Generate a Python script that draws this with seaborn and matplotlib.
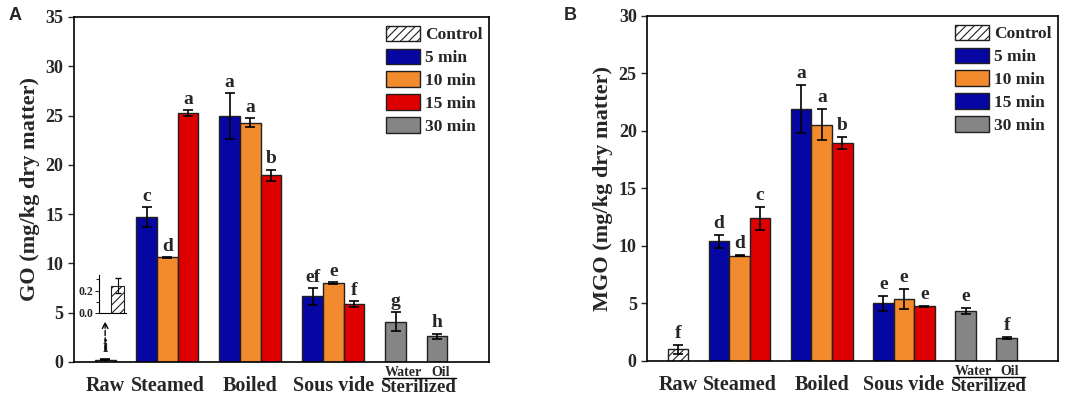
import numpy as np
import pandas as pd
import matplotlib
matplotlib.use("Agg")
import matplotlib.pyplot as plt
import matplotlib.transforms as mtransforms
from matplotlib.patches import Patch
import seaborn as sns

# ---- data ----
groups = ["Raw", "Steamed", "Boiled", "Sous vide", "Water", "Oil"]
group_keys = [["Control"], ["5 min", "10 min", "15 min"], ["5 min", "10 min", "15 min"],
              ["5 min", "10 min", "15 min"], ["30 min"], ["30 min"]]

go_vals = [0.245, 14.7, 10.6, 25.25, 24.95, 24.25, 18.95, 6.65, 8.0, 5.9, 4.1, 2.6]
go_err = [0.07, 1.0, 0.05, 0.3, 2.3, 0.45, 0.55, 0.85, 0.08, 0.28, 0.92, 0.28]
go_letters = ["i", "c", "d", "a", "a", "a", "b", "ef", "e", "f", "g", "h"]

mgo_vals = [1.0, 10.4, 9.17, 12.4, 21.93, 20.55, 18.95, 5.02, 5.4, 4.75, 4.35, 2.0]
mgo_err = [0.4, 0.58, 0.05, 1.03, 2.07, 1.33, 0.52, 0.64, 0.87, 0.03, 0.26, 0.1]
mgo_letters = ["f", "d", "d", "c", "a", "a", "b", "e", "e", "e", "e", "f"]

legend_labels = ["Control", "5 min", "10 min", "15 min", "30 min"]

BLUE = "#0606A2"
ORANGE = "#F28A2E"
RED = "#DE0000"
GRAY = "#858585"
palette = {"Control": "white", "5 min": BLUE, "10 min": ORANGE, "15 min": RED, "30 min": GRAY}
HATCH = "////"

sns.set_style("ticks")
plt.rcParams["font.family"] = ["Liberation Serif", "DejaVu Serif"]
plt.rcParams["font.weight"] = "bold"
plt.rcParams["hatch.linewidth"] = 0.8

# bar positions: one gap between groups
pos, keys, centers = [], [], []
x = 1.0
for g, ks in zip(groups, group_keys):
    start = x
    for k in ks:
        pos.append(x + 0.5)
        keys.append(k)
        x += 1
    centers.append((start + x) / 2)
    x += 1


def draw_panel(ax, vals, errs, letters, ymax, ylabel, leg_colors):
    df = pd.DataFrame({"pos": pos, "val": vals, "key": keys})
    sns.barplot(data=df, x="pos", y="val", hue="key", palette=palette, dodge=False,
                native_scale=True, width=1.0, saturation=1, edgecolor="#202020",
                linewidth=1.0, legend=False, ax=ax)
    for p in ax.patches:
        if p.get_facecolor()[:3] == (1.0, 1.0, 1.0):
            p.set_hatch(HATCH)
    ax.errorbar(pos, vals, yerr=errs, fmt="none", ecolor="black", elinewidth=1.2,
                capsize=3.5, capthick=1.2)
    for xp, v, e, t in zip(pos, vals, errs, letters):
        ax.text(xp, v + e + 0.25, t, ha="center", va="bottom", fontsize=14, fontweight="bold")

    ax.set_xlim(0, 20)
    ax.set_ylim(0, ymax)
    ax.set_yticks(np.arange(0, ymax + 1, 5))
    ax.tick_params(axis="y", labelsize=13, direction="out", length=4, width=1)
    ax.set_xticks(centers[:4])
    ax.set_xticklabels(groups[:4], fontsize=14.5, fontweight="bold")
    ax.tick_params(axis="x", length=0, pad=10)
    ax.set_xlabel("")
    ax.set_ylabel(ylabel, fontsize=16, fontweight="bold", labelpad=4)
    for s in ax.spines.values():
        s.set_visible(True)
        s.set_linewidth(1.2)
        s.set_color("black")

    # sterilized sub-labels
    trans = mtransforms.blended_transform_factory(ax.transData, ax.transAxes)
    ax.text(pos[10] + 0.4, -0.03, "Water", transform=trans, ha="center", va="center",
            fontsize=10, fontweight="bold")
    ax.text(pos[11] + 0.15, -0.03, "Oil", transform=trans, ha="center", va="center",
            fontsize=10, fontweight="bold")
    ax.plot([pos[10] - 0.6, pos[11] + 0.9], [-0.045, -0.045], transform=trans,
            color="black", lw=1.0, clip_on=False)
    ax.text((pos[10] + pos[11]) / 2 + 0.1, -0.075, "Sterilized", transform=trans,
            ha="center", va="center", fontsize=13.5, fontweight="bold")

    handles = [Patch(facecolor=c, edgecolor="#202020", linewidth=1.0,
                     hatch=HATCH if lab == "Control" else None)
               for lab, c in zip(legend_labels, leg_colors)]
    ax.legend(handles, legend_labels, loc="upper right", frameon=False,
              bbox_to_anchor=(1.01, 1.005),
              prop={"family": "Liberation Serif", "weight": "bold", "size": 12.5},
              handlelength=1.95, handleheight=1.0, labelspacing=0.3,
              handletextpad=0.3, borderaxespad=0.2)


fig = plt.figure(figsize=(10.84, 3.98), dpi=100)
axA = fig.add_axes([0.0683, 0.0905, 0.3827, 0.867])
axB = fig.add_axes([0.597, 0.093, 0.379, 0.867])

draw_panel(axA, go_vals, go_err, go_letters, 35, "GO (mg/kg dry matter)",
           [palette[k] for k in legend_labels])
# legend in panel B shows 15 min in blue, as in the original figure
draw_panel(axB, mgo_vals, mgo_err, mgo_letters, 30, "MGO (mg/kg dry matter)",
           ["white", BLUE, ORANGE, BLUE, GRAY])

# inset for raw control in panel A
ins = axA.inset_axes([0.06, 0.142, 0.065, 0.11])
sns.barplot(x=[0.7], y=[go_vals[0]], native_scale=True, width=0.47, color="white",
            saturation=1, edgecolor="#202020", linewidth=0.8, hatch=HATCH, ax=ins)
ins.errorbar([0.7], [go_vals[0]], yerr=[go_err[0]], fmt="none", ecolor="black",
             elinewidth=0.8, capsize=2)
ins.set_xlim(0, 1)
ins.set_ylim(0, 0.34)
ins.set_yticks([0.0, 0.2])
ins.set_yticklabels(["0.0", "0.2"])
ins.set_yticks([0.1, 0.3], minor=True)
ins.set_xticks([])
ins.tick_params(axis="y", labelsize=8.5, length=3, width=0.8, pad=1)
ins.tick_params(axis="y", which="minor", length=2, width=0.8)
ins.patch.set_alpha(0)
for s in ["top", "right"]:
    ins.spines[s].set_visible(False)
for s in ["left", "bottom"]:
    ins.spines[s].set_linewidth(0.8)
    ins.spines[s].set_color("black")
axA.annotate("", xy=(1.5, 4.4), xytext=(1.5, 0.9),
             arrowprops=dict(arrowstyle="->", color="black", lw=1.0, ls="--"))

fig.text(0.008, 0.962, "A", fontsize=13, fontweight="bold", family="Liberation Sans",
         va="center")
fig.text(0.52, 0.962, "B", fontsize=13, fontweight="bold", family="Liberation Sans",
         va="center")

fig.savefig("out.png", dpi=100)
